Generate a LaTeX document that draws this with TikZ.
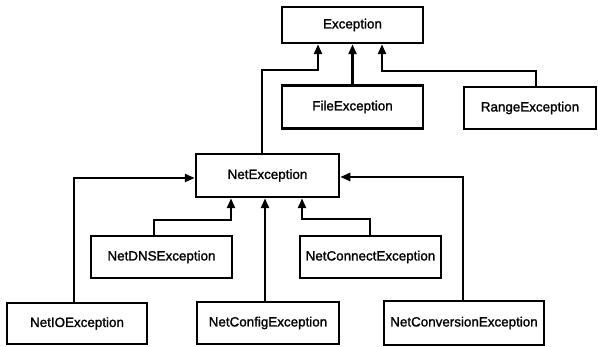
\documentclass[tikz,border=0pt]{standalone}
\usepackage{fontspec}
\setmainfont{Liberation Sans}[BoldFont={Liberation Sans}, BoldFeatures={FakeBold=1.4}]
\usetikzlibrary{arrows.meta}
\begin{document}
\begin{tikzpicture}[x=1pt,y=-1pt,
  cls/.style={draw=black, line width=2.5pt, fill=white, inner sep=0pt,
              font=\fontsize{13.4}{15}\selectfont\bfseries},
  inh/.style={draw=black, line width=2.5pt,
              -{Triangle[length=10pt,width=8pt]}}]
\useasboundingbox (0,0) rectangle (598,347);

% class boxes (centre, size)
\node[cls, minimum width=141pt, minimum height=36pt] (exc)  at (352.5,25)   {Exception};
\node[cls, minimum width=141pt, minimum height=43pt] (file) at (352.5,107)  {FileException};
\node[cls, minimum width=132pt, minimum height=42pt] (rng)  at (530,108)    {RangeException};
\node[cls, minimum width=143pt, minimum height=43pt] (net)  at (267.5,175.5) {NetException};
\node[cls, minimum width=141pt, minimum height=42pt] (dns)  at (161.5,257)  {NetDNSException};
\node[cls, minimum width=141pt, minimum height=42pt] (conn) at (370.5,257)  {NetConnectException};
\node[cls, minimum width=140pt, minimum height=41pt] (io)   at (77,323.5)   {NetIOException};
\node[cls, minimum width=142pt, minimum height=42pt] (cfg)  at (268,323)    {NetConfigException};
\node[cls, minimum width=160pt, minimum height=44pt] (conv) at (464,323)    {NetConversionException};

% bend points of the inheritance lines
\coordinate (nb) at (262,70);
\coordinate (rb) at (536,71);
\coordinate (iob) at (74,178);
\coordinate (dnsb) at (154,220);
\coordinate (connb) at (370,219);
\coordinate (convb) at (463,177);

% generalisations into Exception
\draw[inh] (net.north -| nb) |- (nb) -| (exc.south -| 318,0);
\draw[inh] (file.north) -- (exc.south);
\draw[inh] (rng.north -| rb) |- (rb) -| (exc.south -| 382,0);

% generalisations into NetException
\draw[inh] (io.north -| iob) |- (net.west |- iob);
\draw[inh] (dns.north -| dnsb) |- (dnsb -| 231,0) -- (net.south -| 231,0);
\draw[inh] (cfg.north -| 265,0) -- (net.south -| 265,0);
\draw[inh] (conn.north -| connb) |- (connb -| 302,0) -- (net.south -| 302,0);
\draw[inh] (conv.north -| convb) |- (net.east |- convb);
\end{tikzpicture}
\end{document}
